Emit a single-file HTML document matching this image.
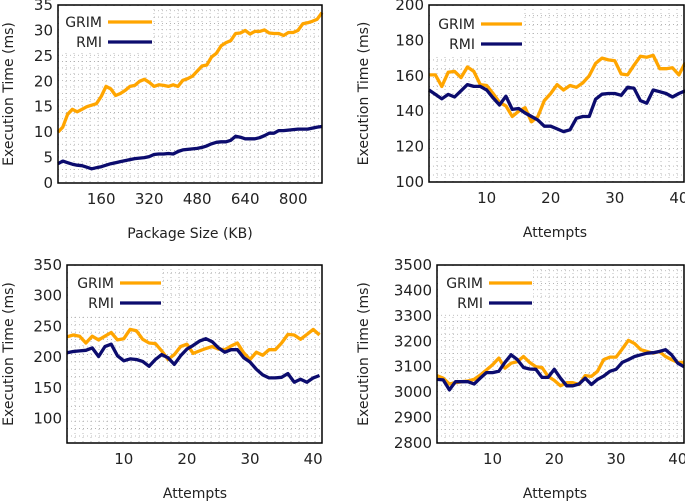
<!DOCTYPE html>
<html><head><meta charset="utf-8"><style>
html,body{margin:0;padding:0;background:#fff;}
svg{display:block;font-family:"DejaVu Sans","Liberation Sans",sans-serif;}
</style></head><body>
<svg id="c" width="685" height="501" viewBox="0 0 685 501"></svg>
<script>
// Chart 1 data
const c1X = [];
for (let v = 16; v <= 896; v += 16) c1X.push(v);
const c1Grim = [10,11,13.5,14.5,14,14.5,15,15.3,15.6,17,19,18.5,17.2,17.6,18.2,19,19.2,20,20.4,19.8,19,19.3,19.2,19,19.3,19,20.2,20.5,21,22,23,23.2,24.8,25.5,27,27.6,28,29.4,29.5,30,29.3,29.8,29.8,30.1,29.5,29.4,29.4,29,29.6,29.6,30,31.3,31.5,31.8,32.2,33.5];
const c1Rmi = [3.8,4.3,4,3.7,3.5,3.4,3.1,2.8,3,3.2,3.5,3.8,4,4.2,4.4,4.6,4.8,4.9,5,5.2,5.6,5.7,5.7,5.8,5.7,6.2,6.5,6.6,6.7,6.8,7,7.3,7.7,8,8.1,8.1,8.4,9.2,9,8.7,8.7,8.7,8.9,9.3,9.8,9.8,10.3,10.3,10.4,10.5,10.6,10.6,10.6,10.8,11,11.1];
const c1YTicks = [0,5,10,15,20,25,30,35];
const c1XTicks = [160,320,480,640,800];
// Chart 2 data
const c2Grim = [160.5,160.5,154,162,162.5,159,165,162.5,155,154.5,150,145,143,137,140,142,134,137,146,150,155,152,154.5,153.5,156,160,167,170,169,168.5,161,160.5,166,171,170.5,171.5,164,164,164.5,160.5,167.5];
const c2Rmi = [152,149.5,147,149.5,148,151.5,155,154,154,152,147.5,143.5,148.5,141,141.5,139,137,135,131.5,131.5,130,128.5,129.5,136,137,137,146.8,149.6,150,150,149,153.5,153,146,144.5,152,151,150,148,150,151.5];
const c2YTicks = [100,120,140,160,180,200];
// Chart 3 data
const c3Grim = [233,236,234,223,234,228,234,240,228,230,245,243,229,223,222,210,196,204,217,221,206,210,214,217,213,212,218,223,207,196,208,203,212,212,223,237,236,229,237,245,236];
const c3Rmi = [207,209,210,211,215,201,217,221,202,194,197,196,193,185,196,204,199,188,202,213,219,226,230,225,215,208,212,212,199,192,180,171,166,166,167,173,159,164,159,166,170];
const c3YTicks = [100,150,200,250,300,350];
// Chart 4 data
const c4Grim = [3065,3055,3032,3037,3041,3044,3050,3067,3087,3108,3134,3094,3114,3120,3140,3117,3100,3097,3062,3046,3025,3037,3037,3030,3065,3062,3082,3128,3138,3138,3170,3204,3191,3167,3160,3153,3160,3140,3128,3117,3117];
const c4Rmi = [3050,3048,3009,3041,3041,3041,3032,3055,3077,3077,3082,3117,3147,3128,3097,3091,3090,3058,3058,3090,3055,3025,3025,3032,3055,3030,3050,3063,3082,3090,3117,3128,3140,3147,3153,3155,3160,3167,3147,3114,3100];
const c4YTicks = [2800,2900,3000,3100,3200,3300,3400,3500];
const attTicks = [10,20,30,40];
const attempts = [];
for (let i = 1; i <= 41; i++) attempts.push(i);

const NS = "http://www.w3.org/2000/svg";
const svg = document.getElementById('c');
function mk(tag, attrs, parent, text) {
  const e = document.createElementNS(NS, tag);
  for (const k in attrs) e.setAttribute(k, attrs[k]);
  if (text !== undefined) e.textContent = text;
  (parent || svg).appendChild(e);
  return e;
}

function chart(o) {
  const g = mk('g', {});
  
  
  const sx = v => o.L + (v - o.x0) / (o.x1 - o.x0) * (o.R - o.L);
  const sy = v => o.B - (v - o.y0) / (o.y1 - o.y0) * (o.B - o.T);
  const grid = mk('g', {stroke: '#aaa', 'stroke-width': 0.8, 'stroke-dasharray': '1,3'}, g);
  
  
  for (let y = o.B - 7; y > o.T + 2; y -= (o.B - o.T) / o.hLines) mk('line', {x1: o.L, x2: o.R, y1: y, y2: y}, grid);
  for (let x = o.L + 8; x < o.R - 2; x += 8) mk('line', {x1: x, x2: x, y1: o.T, y2: o.B}, grid);
  mk('rect', {x: o.L + 1, y: o.T + 1, width: o.lgX2 - o.L, height: o.lgY + 30 - o.T, fill: '#fff'}, g);
  const series = [[o.grim, '#ffa500', 'grim-line'], [o.rmi, '#0c0c6e', 'rmi-line']];
  for (const [vals, col, nm] of series) {
    const pts = vals.map((v, i) => sx(o.xs[i]).toFixed(1) + ',' + sy(v).toFixed(1)).join(' ');
    const pl = mk('polyline', {points: pts, fill: 'none', stroke: col, 'stroke-width': 3.3, 'stroke-linejoin': 'round'}, g);
    
    
  }
  const fr = mk('rect', {x: o.L, y: o.T, width: o.R - o.L, height: o.B - o.T, fill: 'none', stroke: '#000', 'stroke-width': 1.5}, g);
  
  
  for (const t of o.yTicks) {
    const tx = mk('text', {x: o.L - 5, y: sy(t) + 5, 'text-anchor': 'end', 'font-size': 15, fill: '#222'}, g, String(t));
    
    
  }
  for (const t of o.xTicks) {
    const tx = mk('text', {x: sx(t), y: o.B + 21, 'text-anchor': 'middle', 'font-size': 15, fill: '#222'}, g, String(t));
    
    
  }
  const xt = mk('text', {x: o.xtX, y: o.B + 55, 'text-anchor': 'middle', 'font-size': 14, fill: '#222'}, g, o.xTitle);
  
  
  const cy = (o.T + o.B) / 2;
  const yt = mk('text', {x: 0, y: 0, transform: `translate(${o.ytX},${cy}) rotate(-90)`, 'text-anchor': 'middle', 'font-size': 14, fill: '#222'}, g, 'Execution Time (ms)');
  
  
  const lg = [['GRIM', '#ffa500', o.lgY], ['RMI', '#0c0c6e', o.lgY + 20]];
  for (const [lab, col, y] of lg) {
    const le = mk('g', {}, g);
    
    
    mk('text', {x: o.lgX1 - 6, y: y + 5, 'text-anchor': 'end', 'font-size': 14, fill: '#222'}, le, lab);
    mk('line', {x1: o.lgX1, x2: o.lgX2, y1: y, y2: y, stroke: col, 'stroke-width': 3.3}, le);
  }
}

chart({name: 'chart-package-size', L: 58, R: 322, T: 5, B: 183, x0: 16, x1: 896, y0: 0, y1: 35, xs: c1X, grim: c1Grim, rmi: c1Rmi, yTicks: c1YTicks, xTicks: c1XTicks, hLines: 28, xTitle: 'Package Size (KB)', xtX: 190, ytX: 13, lgX1: 108, lgX2: 152, lgY: 22});
chart({name: 'chart-attempts-top-right', L: 429, R: 684, T: 5, B: 182, x0: 1, x1: 40.8, y0: 100, y1: 200, xs: attempts, grim: c2Grim, rmi: c2Rmi, yTicks: c2YTicks, xTicks: attTicks, hLines: 20, xTitle: 'Attempts', xtX: 555, ytX: 368, lgX1: 481, lgX2: 522, lgY: 24});
chart({name: 'chart-attempts-bottom-left', L: 67, R: 322, T: 265, B: 443, x0: 1, x1: 41.4, y0: 60, y1: 350, xs: attempts, grim: c3Grim, rmi: c3Rmi, yTicks: c3YTicks, xTicks: attTicks, hLines: 24, xTitle: 'Attempts', xtX: 195, ytX: 13, lgX1: 120, lgX2: 161, lgY: 283});
chart({name: 'chart-attempts-bottom-right', L: 437, R: 684, T: 265, B: 443, x0: 1, x1: 41, y0: 2800, y1: 3500, xs: attempts, grim: c4Grim, rmi: c4Rmi, yTicks: c4YTicks, xTicks: attTicks, hLines: 28, xTitle: 'Attempts', xtX: 555, ytX: 368, lgX1: 489, lgX2: 532, lgY: 283});
</script>
</body></html>
